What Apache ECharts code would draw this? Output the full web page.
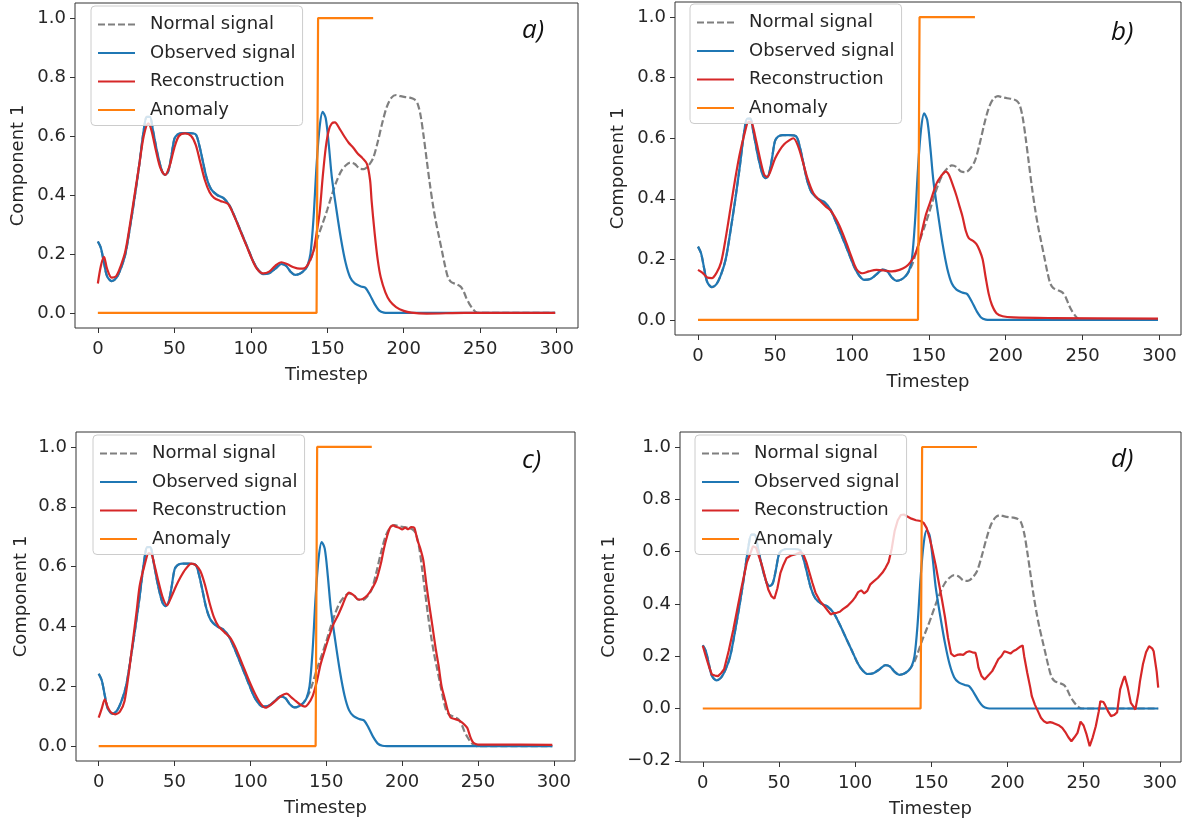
<!DOCTYPE html>
<html>
<head>
<meta charset="utf-8">
<script src="https://cdn.jsdelivr.net/npm/echarts@6/dist/echarts.min.js"></script>
<style>
  html, body { margin: 0; padding: 0; background: #fff; }
  #chart { width: 1184px; height: 825px; }
</style>
</head>
<body>
<div id="chart"></div>
<script>
// Tick positions
const xTicks = [0, 50, 100, 150, 200, 250, 300];
const yTicks = [0, 0.2, 0.4, 0.6, 0.8, 1.0];
const yTicksWide = [-0.2, 0, 0.2, 0.4, 0.6, 0.8, 1.0];

// Signal before the anomaly starts (observed and normal coincide here)
const preAnomalySignal = [
  [0,0.242],[2,0.22],[4,0.17],[6,0.125],[9,0.108],[12,0.118],[15,0.15],[18,0.2],
  [21,0.29],[24,0.39],[27,0.5],[30,0.62],[32,0.665],[34,0.665],[36,0.62],[39,0.54],
  [42,0.48],[44,0.468],[46,0.48],[48,0.53],[50,0.59],[52,0.605],[55,0.61],[60,0.61],
  [64,0.605],[66,0.575],[68,0.53],[71,0.46],[74,0.42],[78,0.4],[82,0.39],[86,0.365],
  [90,0.32],[94,0.27],[98,0.22],[102,0.17],[105,0.145],[108,0.132],[112,0.135],
  [116,0.15],[120,0.166],[123,0.16],[126,0.14],[129,0.129],[132,0.133],[135,0.145],
  [137,0.16]
];

// Observed signal after the anomaly onset
const observedTail = [
  [139,0.2],[141,0.32],[143,0.5],[145,0.63],[147,0.682],[149,0.66],[151,0.57],
  [153,0.46],[156,0.35],[159,0.25],[162,0.17],[165,0.12],[168,0.1],[172,0.09],
  [175,0.085],[178,0.06],[181,0.03],[184,0.008],[187,0.001],[190,0],[299,0]
];

// Normal (anomaly-free) signal after the onset
const normalTail = [
  [139,0.18],[141,0.21],[144,0.26],[147,0.304],[150,0.35],[153,0.4],[156,0.445],
  [159,0.48],[162,0.5],[165,0.51],[168,0.505],[171,0.49],[174,0.488],[177,0.5],
  [180,0.525],[183,0.58],[186,0.645],[189,0.7],[192,0.73],[195,0.739],[198,0.735],
  [201,0.732],[204,0.73],[207,0.724],[209,0.711],[211,0.67],[213,0.6],[215,0.52],
  [217,0.44],[219,0.37],[221,0.31],[223,0.26],[225,0.21],[227,0.16],[229,0.12],
  [231,0.105],[234,0.098],[237,0.09],[239,0.075],[241,0.05],[243,0.03],[245,0.015],
  [247,0.004],[249,0],[299,0]
];

// Anomaly indicator
const anomalyFlag = [[0,0],[143,0],[144,1],[180,1]];

// Reconstructions of the four models
const reconA = [
  [0,0.1],[2,0.16],[4,0.19],[6,0.15],[9,0.12],[12,0.125],[15,0.16],[18,0.21],
  [21,0.3],[24,0.4],[27,0.5],[30,0.6],[33,0.643],[35,0.62],[38,0.55],[41,0.49],
  [44,0.468],[47,0.5],[50,0.56],[53,0.6],[57,0.609],[61,0.6],[64,0.57],[67,0.51],
  [70,0.45],[73,0.41],[76,0.39],[80,0.38],[85,0.37],[89,0.33],[93,0.28],[97,0.23],
  [101,0.18],[104,0.15],[108,0.134],[112,0.14],[116,0.16],[120,0.172],[124,0.165],
  [128,0.155],[132,0.15],[135,0.151],[138,0.17],[141,0.21],[143,0.27],[145,0.34],
  [147,0.46],[149,0.56],[151,0.62],[153,0.643],[155,0.646],[158,0.625],[161,0.6],
  [164,0.577],[167,0.56],[170,0.54],[173,0.525],[176,0.505],[178,0.45],[179,0.38],
  [181,0.27],[183,0.18],[185,0.12],[188,0.07],[191,0.04],[195,0.02],[200,0.007],
  [205,0.001],[215,-0.002],[240,0],[299,0]
];

const reconB = [
  [0,0.165],[3,0.155],[6,0.14],[9,0.138],[12,0.155],[15,0.19],[18,0.27],[21,0.365],
  [24,0.46],[27,0.545],[30,0.61],[33,0.655],[35,0.65],[37,0.61],[40,0.54],[43,0.48],
  [45,0.472],[47,0.49],[50,0.532],[53,0.56],[56,0.58],[59,0.592],[62,0.6],[65,0.575],
  [68,0.525],[71,0.47],[75,0.418],[79,0.395],[83,0.375],[86,0.362],[89,0.34],
  [92,0.31],[96,0.26],[100,0.205],[103,0.168],[107,0.154],[111,0.16],[116,0.165],
  [121,0.163],[126,0.16],[131,0.165],[135,0.175],[138,0.19],[141,0.215],[144,0.26],
  [148,0.345],[151,0.39],[155,0.45],[158,0.475],[161,0.49],[163,0.48],[166,0.44],
  [168,0.41],[170,0.375],[172,0.34],[174,0.295],[176,0.27],[179,0.26],[181,0.25],
  [183,0.23],[185,0.2],[187,0.14],[189,0.085],[191,0.05],[194,0.022],[198,0.012],
  [205,0.008],[230,0.006],[299,0.004]
];

const reconC = [
  [0,0.095],[2,0.125],[4,0.156],[6,0.13],[8,0.113],[11,0.106],[14,0.115],[17,0.15],
  [20,0.25],[22,0.33],[25,0.45],[27,0.535],[30,0.6],[33,0.645],[35,0.64],[37,0.6],
  [39,0.558],[42,0.5],[45,0.47],[48,0.5],[51,0.535],[54,0.565],[57,0.59],[61,0.61],
  [64,0.605],[67,0.585],[70,0.54],[73,0.48],[76,0.43],[79,0.4],[83,0.38],[87,0.36],
  [91,0.32],[95,0.27],[99,0.22],[103,0.175],[107,0.14],[110,0.128],[114,0.14],
  [118,0.158],[121,0.17],[124,0.175],[127,0.163],[130,0.15],[133,0.138],[136,0.132],
  [138,0.14],[141,0.167],[144,0.22],[146,0.268],[149,0.32],[152,0.368],[155,0.41],
  [158,0.44],[161,0.475],[163,0.5],[165,0.513],[168,0.505],[171,0.49],[174,0.492],
  [177,0.503],[180,0.525],[183,0.555],[186,0.61],[188,0.66],[190,0.7],[192,0.73],
  [194,0.738],[196,0.733],[198,0.73],[200,0.724],[202,0.73],[204,0.725],[206,0.732],
  [208,0.73],[210,0.69],[212,0.66],[214,0.62],[216,0.54],[218,0.468],[220,0.4],
  [222,0.33],[224,0.27],[226,0.2],[228,0.16],[230,0.12],[232,0.095],[235,0.09],
  [238,0.084],[241,0.072],[243,0.06],[245,0.03],[247,0.011],[250,0.005],[260,0.005],
  [299,0.004]
];

const reconD = [
  [0,0.24],[2,0.2],[4,0.162],[6,0.13],[8,0.126],[10,0.124],[12,0.135],[14,0.15],
  [17,0.22],[20,0.3],[23,0.39],[25,0.45],[27,0.506],[29,0.56],[31,0.59],[33,0.621],
  [35,0.615],[37,0.58],[39,0.545],[41,0.5],[43,0.455],[45,0.43],[47,0.42],[49,0.46],
  [51,0.519],[53,0.55],[55,0.575],[58,0.585],[61,0.59],[64,0.598],[66,0.59],[68,0.56],
  [70,0.52],[72,0.48],[74,0.443],[77,0.41],[80,0.39],[82,0.375],[84,0.36],[86,0.365],
  [88,0.366],[90,0.37],[92,0.38],[95,0.392],[98,0.41],[100,0.425],[102,0.445],
  [104,0.452],[106,0.44],[108,0.45],[110,0.475],[112,0.485],[115,0.5],[118,0.52],
  [120,0.538],[122,0.56],[124,0.61],[126,0.68],[128,0.72],[130,0.74],[132,0.742],
  [134,0.735],[137,0.726],[140,0.72],[143,0.717],[145,0.71],[147,0.69],[149,0.65],
  [151,0.6],[153,0.545],[155,0.48],[157,0.417],[159,0.35],[161,0.27],[163,0.21],
  [165,0.2],[167,0.205],[169,0.207],[171,0.205],[173,0.215],[175,0.219],[177,0.215],
  [179,0.213],[180,0.19],[181,0.156],[183,0.124],[185,0.111],[186,0.115],[188,0.13],
  [190,0.143],[192,0.165],[194,0.188],[196,0.2],[198,0.219],[200,0.215],[202,0.21],
  [204,0.22],[206,0.226],[208,0.235],[210,0.241],[211,0.2],[213,0.137],[215,0.08],
  [216,0.047],[218,0.015],[220,-0.01],[222,-0.035],[224,-0.049],[226,-0.055],
  [228,-0.052],[230,-0.055],[232,-0.06],[234,-0.065],[236,-0.074],[238,-0.09],
  [240,-0.11],[242,-0.125],[244,-0.11],[246,-0.093],[248,-0.05],[250,-0.065],
  [252,-0.1],[254,-0.144],[256,-0.11],[258,-0.068],[260,-0.01],[261,0.028],
  [263,0.025],[264,0.015],[266,-0.01],[268,-0.029],[270,-0.025],[272,-0.015],
  [274,0.073],[276,0.11],[277,0.124],[279,0.08],[281,0.022],[283,0.005],[284,-0.004],
  [286,0.06],[287,0.104],[289,0.17],[291,0.215],[293,0.238],[295,0.23],[296,0.219],
  [298,0.14],[299,0.08]
];

const seriesNames = ['Normal signal', 'Observed signal', 'Reconstruction', 'Anomaly'];
const panelLetters = ['a)', 'b)', 'c)', 'd)'];

const observedSignal = preAnomalySignal.concat(observedTail);
const normalSignal = preAnomalySignal.concat(normalTail);

const COLORS = {
  normal: '#7f7f7f',
  observed: '#1f77b4',
  recon: '#d62728',
  anomaly: '#ff7f0e'
};
const TEXT = '#262626';
const FONT = 'DejaVu Sans';
const LINE_W = 2.2;

// Panel frames (pixels) and per-panel settings
const panels = [
  { grid: { left: 75,  top: 3,   width: 503, height: 325 }, yMin: -0.051, yMax: 1.051, yTicks: yTicks,     recon: reconA, smooth: 0.3, yGap: 48, legend: { left: 91,  top: 6 },   letter: { left: 522,  top: 18 } },
  { grid: { left: 675, top: 2,   width: 506, height: 333 }, yMin: -0.05,  yMax: 1.05,  yTicks: yTicks,     recon: reconB, smooth: 0.3, yGap: 48, legend: { left: 690, top: 4 },   letter: { left: 1111, top: 20 } },
  { grid: { left: 76,  top: 432, width: 499, height: 329 }, yMin: -0.05,  yMax: 1.05,  yTicks: yTicks,     recon: reconC, smooth: 0.25, yGap: 46, legend: { left: 93,  top: 435 }, letter: { left: 522,  top: 448 } },
  { grid: { left: 680, top: 432, width: 501, height: 330 }, yMin: -0.2045, yMax: 1.0574, yTicks: yTicksWide, recon: reconD, smooth: false, yGap: 62, legend: { left: 695, top: 435 }, letter: { left: 1111, top: 447 } }
];

const grids = [], xAxes = [], yAxes = [], series = [], legends = [], titles = [];

panels.forEach((p, i) => {
  grids.push(Object.assign({ show: true, borderColor: '#333', borderWidth: 1, backgroundColor: 'transparent' }, p.grid));

  xAxes.push({
    type: 'value', gridIndex: i, min: -14.95, max: 313.95,
    name: 'Timestep', nameLocation: 'middle', nameGap: 38,
    nameTextStyle: { fontFamily: FONT, fontSize: 18, color: TEXT },
    axisLine: { show: false, onZero: false },
    splitLine: { show: false },
    axisTick: { show: true, length: 5, lineStyle: { color: '#333' }, customValues: xTicks },
    axisLabel: { margin: 12, fontFamily: FONT, fontSize: 18, color: TEXT, customValues: xTicks, formatter: v => String(Math.round(v)) }
  });

  yAxes.push({
    type: 'value', gridIndex: i, min: p.yMin, max: p.yMax,
    name: 'Component 1', nameLocation: 'middle', nameGap: p.yGap, nameRotate: 90,
    nameTextStyle: { fontFamily: FONT, fontSize: 18, color: TEXT },
    axisLine: { show: false, onZero: false },
    splitLine: { show: false },
    axisTick: { show: true, length: 5, lineStyle: { color: '#333' }, customValues: p.yTicks },
    axisLabel: {
      margin: 9, fontFamily: FONT, fontSize: 18, color: TEXT, customValues: p.yTicks,
      formatter: v => (v < -1e-9 ? '\u2212' + Math.abs(v).toFixed(1) : Math.abs(v).toFixed(1))
    }
  });

  const base = { type: 'line', xAxisIndex: i, yAxisIndex: i, symbol: 'none', animation: false, silent: true };
  series.push(Object.assign({}, base, {
    name: seriesNames[0], data: normalSignal, smooth: 0.3,
    lineStyle: { color: COLORS.normal, width: LINE_W, type: [7, 3] }, itemStyle: { color: COLORS.normal }
  }));
  series.push(Object.assign({}, base, {
    name: seriesNames[1], data: observedSignal, smooth: 0.3,
    lineStyle: { color: COLORS.observed, width: LINE_W }, itemStyle: { color: COLORS.observed }
  }));
  series.push(Object.assign({}, base, {
    name: seriesNames[2], data: p.recon, smooth: p.smooth,
    lineStyle: { color: COLORS.recon, width: LINE_W }, itemStyle: { color: COLORS.recon }
  }));
  series.push(Object.assign({}, base, {
    name: seriesNames[3], data: anomalyFlag, smooth: false,
    lineStyle: { color: COLORS.anomaly, width: LINE_W }, itemStyle: { color: COLORS.anomaly }
  }));

  // Line-only legend keys: the marker inside each key is made invisible
  legends.push({
    data: seriesNames, orient: 'vertical', selectedMode: false,
    left: p.legend.left, top: p.legend.top,
    padding: [8, 7, 5, 6], itemGap: 7.5, itemWidth: 37, itemHeight: 14,
    itemStyle: { opacity: 0, color: 'rgba(0,0,0,0)', borderWidth: 0 },
    backgroundColor: 'rgba(255,255,255,0.8)', borderColor: '#cccccc', borderWidth: 1, borderRadius: 4,
    textStyle: { fontFamily: FONT, fontSize: 18, color: TEXT, lineHeight: 21, padding: [0, 0, 0, 10] }
  });

  titles.push({
    text: panelLetters[i], left: p.letter.left, top: p.letter.top, padding: 0,
    textStyle: { fontFamily: 'Open Sans', fontStyle: 'italic', fontWeight: 'normal', fontSize: 26, color: '#111' }
  });
});

const chart = echarts.init(document.getElementById('chart'), null, { renderer: 'canvas' });
chart.setOption({
  animation: false,
  backgroundColor: '#fff',
  title: titles,
  grid: grids,
  xAxis: xAxes,
  yAxis: yAxes,
  legend: legends,
  series: series
});
</script>
</body>
</html>
